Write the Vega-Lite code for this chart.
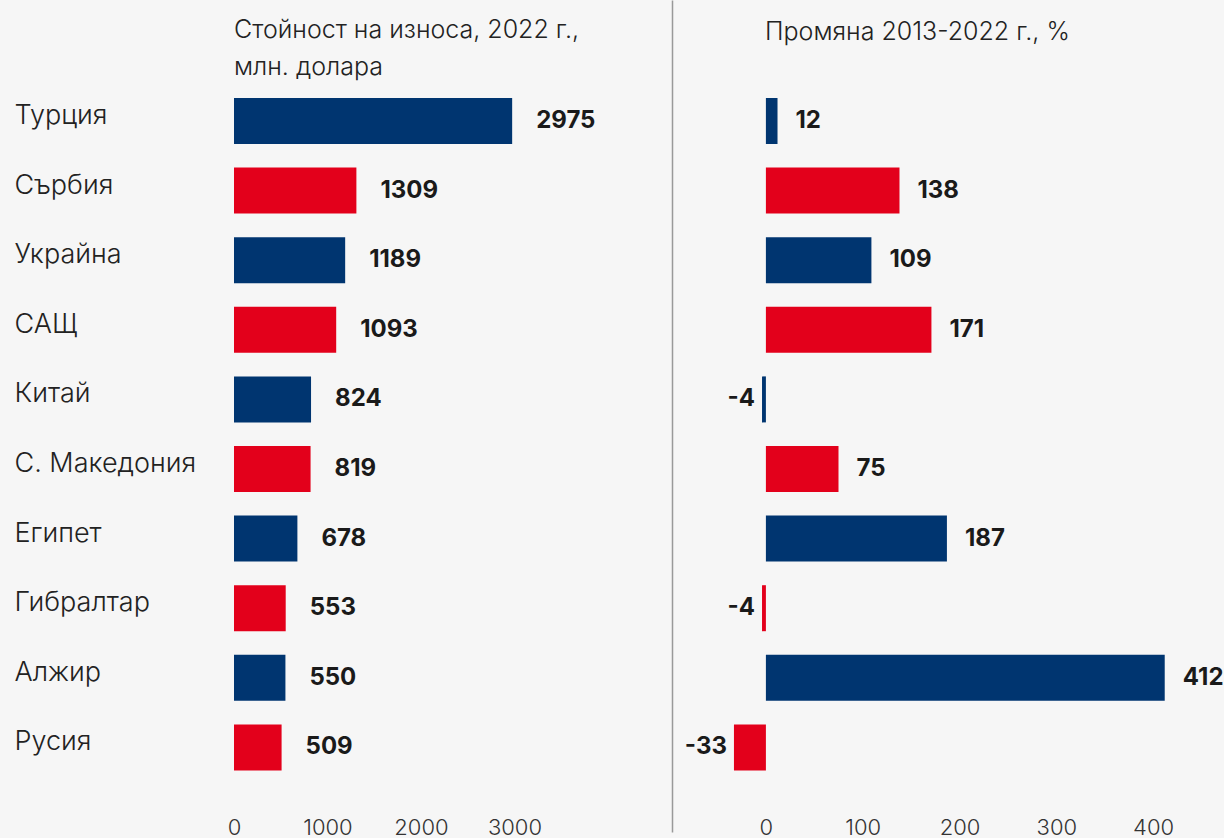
{
  "$schema": "https://vega.github.io/schema/vega-lite/v6.json",
  "background": "#f6f6f6",
  "padding": {"left": 14, "top": 0, "right": 0, "bottom": 0},
  "autosize": {"type": "pad"},
  "config": {"view": {"stroke": null}, "font": "Inter", "concat": {"spacing": 8}},
  "spacing": 8,
  "data": {"values": [
    {"country": "Турция", "export": 2975, "change": 12},
    {"country": "Сърбия", "export": 1309, "change": 138},
    {"country": "Украйна", "export": 1189, "change": 109},
    {"country": "САЩ", "export": 1093, "change": 171},
    {"country": "Китай", "export": 824, "change": -4},
    {"country": "С. Македония", "export": 819, "change": 75},
    {"country": "Египет", "export": 678, "change": 187},
    {"country": "Гибралтар", "export": 553, "change": -4},
    {"country": "Алжир", "export": 550, "change": 412},
    {"country": "Русия", "export": 509, "change": -33}
  ]},
  "transform": [
    {"window": [{"op": "row_number", "as": "rank"}], "sort": [{"field": "export", "order": "descending"}]}
  ],
  "hconcat": [
    {
      "width": 430,
      "height": 832,
      "title": {"text": ["Стойност на износа, 2022 г.,", "млн. долара"], "anchor": "start", "frame": "group", "offset": -80, "fontSize": 25, "fontWeight": 300, "color": "#222222", "lineHeight": 37},
      "encoding": {
        "y": {"field": "country", "type": "nominal",
          "scale": {"domain": [" ", "Турция", "Сърбия", "Украйна", "САЩ", "Китай", "С. Македония", "Египет", "Гибралтар", "Алжир", "Русия"], "paddingInner": 0.339, "paddingOuter": 0.6466, "align": 0.3156},
          "axis": {"title": null, "domain": false, "ticks": false, "tickSize": 0, "grid": false, "labelAlign": "left", "labelPadding": 220, "labelFontSize": 27, "labelFontWeight": 300, "labelColor": "#222222", "labelBaseline": "middle", "labelOffset": -5, "labelLimit": 300}},
        "x": {"field": "export", "type": "quantitative", "scale": {"domain": [0, 4599], "nice": false},
          "axis": {"title": null, "domain": false, "ticks": false, "grid": false, "values": [0, 1000, 2000, 3000], "format": "d", "labelFontSize": 22, "labelFontWeight": 300, "labelColor": "#333333", "offset": -17, "labelPadding": 2, "labelFlush": false, "labelOverlap": false}}
      },
      "layer": [
        {"mark": {"type": "bar"},
          "encoding": {"color": {"condition": {"test": "datum.rank % 2 == 1", "value": "#003570"}, "value": "#e3001b"}}},
        {"mark": {"type": "text", "align": "left", "baseline": "middle", "dx": 24, "fontSize": 24, "fontWeight": "bold", "color": "#1a1a1a"},
          "encoding": {"text": {"field": "export", "type": "nominal"}}}
      ]
    },
    {
      "width": 545,
      "height": 832,
      "title": {"text": "Промяна 2013-2022 г., %", "anchor": "start", "frame": "group", "offset": -45, "dx": 93, "fontSize": 25, "fontWeight": 300, "color": "#222222"},
      "encoding": {
        "y": {"field": "country", "type": "nominal",
          "scale": {"domain": [" ", "Турция", "Сърбия", "Украйна", "САЩ", "Китай", "С. Македония", "Египет", "Гибралтар", "Алжир", "Русия"], "paddingInner": 0.339, "paddingOuter": 0.6466, "align": 0.3156},
          "axis": {"title": null, "labels": false, "ticks": false, "grid": false, "domain": true, "domainColor": "#999999", "domainWidth": 1.5}},
        "x": {"field": "change", "type": "quantitative", "scale": {"domain": [-97, 466], "nice": false, "zero": false},
          "axis": {"title": null, "domain": false, "ticks": false, "grid": false, "values": [0, 100, 200, 300, 400], "format": "d", "labelFontSize": 22, "labelFontWeight": 300, "labelColor": "#333333", "offset": -17, "labelPadding": 2, "labelFlush": false, "labelOverlap": false}}
      },
      "layer": [
        {"mark": {"type": "bar"},
          "encoding": {"color": {"condition": {"test": "datum.rank % 2 == 1", "value": "#003570"}, "value": "#e3001b"}}},
        {"transform": [{"filter": "datum.change >= 0"}],
          "mark": {"type": "text", "align": "left", "baseline": "middle", "dx": 18, "fontSize": 24, "fontWeight": "bold", "color": "#1a1a1a"},
          "encoding": {"text": {"field": "change", "type": "nominal"}}},
        {"transform": [{"filter": "datum.change < 0"}],
          "mark": {"type": "text", "align": "right", "baseline": "middle", "dx": -7, "fontSize": 24, "fontWeight": "bold", "color": "#1a1a1a"},
          "encoding": {"text": {"field": "change", "type": "nominal"}}}
      ]
    }
  ]
}
